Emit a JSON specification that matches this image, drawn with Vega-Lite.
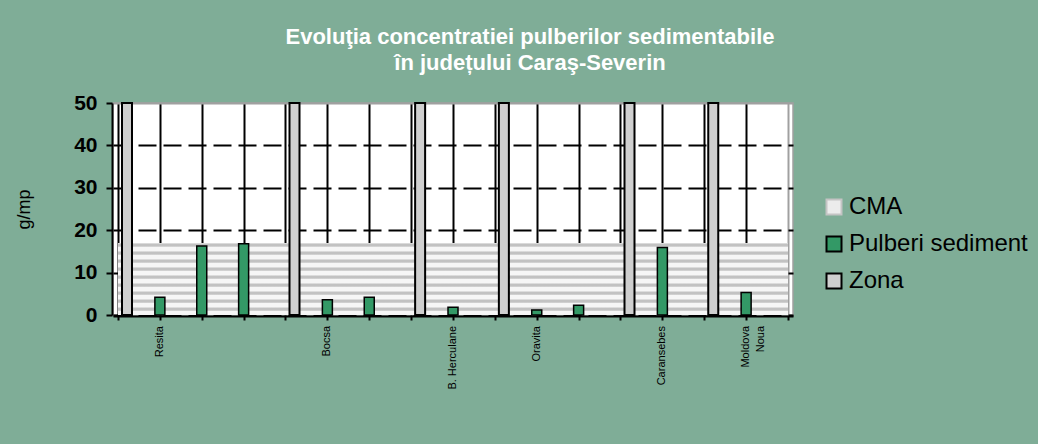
{
  "$schema": "https://vega.github.io/schema/vega-lite/v6.json",
  "width": 680,
  "height": 212,
  "autosize": {"type": "none"},
  "padding": {"left": 113, "top": 103, "right": 245, "bottom": 129},
  "background": "#7fad97",
  "config": {
    "font": "Liberation Sans",
    "view": {"fill": "white", "stroke": "#a0a0a0", "strokeWidth": 1.5}
  },
  "title": {
    "text": ["Evoluţia concentratiei  pulberilor sedimentabile", "în județului Caraş-Severin"],
    "color": "white",
    "font": "Liberation Sans",
    "fontSize": 22,
    "fontWeight": "bold",
    "lineHeight": 26,
    "anchor": "middle",
    "frame": "group",
    "dx": 77,
    "offset": 17
  },
  "data": {
    "values": [
      {"serie": "CMA", "poz": 0, "valoare": 17},
      {"serie": "CMA", "poz": 1, "valoare": 17},
      {"serie": "CMA", "poz": 2, "valoare": 17},
      {"serie": "CMA", "poz": 3, "valoare": 17},
      {"serie": "CMA", "poz": 4, "valoare": 17},
      {"serie": "CMA", "poz": 5, "valoare": 17},
      {"serie": "CMA", "poz": 6, "valoare": 17},
      {"serie": "CMA", "poz": 7, "valoare": 17},
      {"serie": "CMA", "poz": 8, "valoare": 17},
      {"serie": "CMA", "poz": 9, "valoare": 17},
      {"serie": "CMA", "poz": 10, "valoare": 17},
      {"serie": "CMA", "poz": 11, "valoare": 17},
      {"serie": "CMA", "poz": 12, "valoare": 17},
      {"serie": "CMA", "poz": 13, "valoare": 17},
      {"serie": "CMA", "poz": 14, "valoare": 17},
      {"serie": "CMA", "poz": 15, "valoare": 17},
      {"serie": "CMA", "poz": 16, "valoare": 17},
      {"serie": "Zona", "poz": 0, "valoare": 50},
      {"serie": "Zona", "poz": 4, "valoare": 50},
      {"serie": "Zona", "poz": 7, "valoare": 50},
      {"serie": "Zona", "poz": 9, "valoare": 50},
      {"serie": "Zona", "poz": 12, "valoare": 50},
      {"serie": "Zona", "poz": 14, "valoare": 50},
      {"serie": "Pulberi sediment", "eticheta": "Resita", "poz": 1, "valoare": 4.2},
      {"serie": "Pulberi sediment", "poz": 2, "valoare": 16.3},
      {"serie": "Pulberi sediment", "poz": 3, "valoare": 16.8},
      {"serie": "Pulberi sediment", "eticheta": "Bocsa", "poz": 5, "valoare": 3.6},
      {"serie": "Pulberi sediment", "poz": 6, "valoare": 4.2},
      {"serie": "Pulberi sediment", "eticheta": "B. Herculane", "poz": 8, "valoare": 1.8},
      {"serie": "Pulberi sediment", "eticheta": "Oravita", "poz": 10, "valoare": 1.2},
      {"serie": "Pulberi sediment", "poz": 11, "valoare": 2.3},
      {"serie": "Pulberi sediment", "eticheta": "Caransebes", "poz": 13, "valoare": 15.9},
      {"serie": "Pulberi sediment", "eticheta": "Moldova\nNoua", "poz": 15, "valoare": 5.3}
    ]
  },
  "encoding": {
    "x": {
      "field": "poz",
      "type": "quantitative",
      "scale": {"domain": [0, 16], "nice": false, "zero": false},
      "axis": {
        "title": null,
        "labels": false,
        "tickCount": 16,
        "ticks": true,
        "tickSize": 4,
        "tickWidth": 2,
        "tickColor": "black",
        "domainColor": "black",
        "domainWidth": 2,
        "offset": 1,
        "grid": true,
        "gridWidth": 2,
        "gridColor": {"condition": {"test": "datum.value >= 16", "value": "#a0a0a0"}, "value": "black"}
      }
    },
    "y": {
      "field": "valoare",
      "type": "quantitative",
      "stack": null,
      "scale": {"domain": [0, 50], "nice": false},
      "axis": {
        "title": "g/mp",
        "titleFont": "Liberation Sans",
        "titleFontSize": 18,
        "titleFontWeight": "normal",
        "titleColor": "black",
        "titlePadding": 40,
        "values": [0, 10, 20, 30, 40, 50],
        "labelFont": "Liberation Sans",
        "labelFontSize": 21,
        "labelFontWeight": "bold",
        "labelColor": "black",
        "labelPadding": 9,
        "tickSize": 6,
        "tickWidth": 2,
        "tickColor": "black",
        "domainColor": "black",
        "domainWidth": 2,
        "offset": 1,
        "grid": true,
        "gridWidth": 2,
        "gridColor": {"condition": {"test": "datum.value >= 50", "value": "#a0a0a0"}, "value": "black"},
        "gridDash": {"condition": {"test": "datum.value >= 50", "value": []}, "value": [18, 7]}
      }
    }
  },
  "layer": [
    {
      "transform": [{"filter": "datum.serie === 'CMA'"}],
      "mark": {
        "type": "area",
        "line": false,
        "fill": {
          "gradient": "linear",
          "x1": 0, "y1": 0, "x2": 0, "y2": 1,
          "stops": [
            {"offset": 0, "color": "#f6f6f6"},
            {"offset": 0.015, "color": "#c2c2c2"},
            {"offset": 0.045, "color": "#c2c2c2"},
            {"offset": 0.06, "color": "#f6f6f6"},
            {"offset": 0.1111, "color": "#f6f6f6"},
            {"offset": 0.1261, "color": "#c2c2c2"},
            {"offset": 0.1561, "color": "#c2c2c2"},
            {"offset": 0.1711, "color": "#f6f6f6"},
            {"offset": 0.2222, "color": "#f6f6f6"},
            {"offset": 0.2372, "color": "#c2c2c2"},
            {"offset": 0.2672, "color": "#c2c2c2"},
            {"offset": 0.2822, "color": "#f6f6f6"},
            {"offset": 0.3333, "color": "#f6f6f6"},
            {"offset": 0.3483, "color": "#c2c2c2"},
            {"offset": 0.3783, "color": "#c2c2c2"},
            {"offset": 0.3933, "color": "#f6f6f6"},
            {"offset": 0.4444, "color": "#f6f6f6"},
            {"offset": 0.4594, "color": "#c2c2c2"},
            {"offset": 0.4894, "color": "#c2c2c2"},
            {"offset": 0.5044, "color": "#f6f6f6"},
            {"offset": 0.5556, "color": "#f6f6f6"},
            {"offset": 0.5706, "color": "#c2c2c2"},
            {"offset": 0.6006, "color": "#c2c2c2"},
            {"offset": 0.6156, "color": "#f6f6f6"},
            {"offset": 0.6667, "color": "#f6f6f6"},
            {"offset": 0.6817, "color": "#c2c2c2"},
            {"offset": 0.7117, "color": "#c2c2c2"},
            {"offset": 0.7267, "color": "#f6f6f6"},
            {"offset": 0.7778, "color": "#f6f6f6"},
            {"offset": 0.7928, "color": "#c2c2c2"},
            {"offset": 0.8228, "color": "#c2c2c2"},
            {"offset": 0.8378, "color": "#f6f6f6"},
            {"offset": 0.8889, "color": "#f6f6f6"},
            {"offset": 0.9039, "color": "#c2c2c2"},
            {"offset": 0.9339, "color": "#c2c2c2"},
            {"offset": 0.9489, "color": "#f6f6f6"},
            {"offset": 1, "color": "#f6f6f6"}
          ]
        }
      }
    },
    {
      "transform": [{"filter": "datum.serie === 'Zona'"}],
      "mark": {"type": "bar", "width": 10, "xOffset": 9, "strokeWidth": 2, "fill": "#cfcfcf", "stroke": "black"}
    },
    {
      "transform": [{"filter": "datum.serie === 'Pulberi sediment'"}],
      "mark": {"type": "bar", "width": 10, "strokeWidth": 1.5},
      "encoding": {
        "fill": {
          "field": "serie",
          "type": "nominal",
          "scale": {"domain": ["CMA", "Pulberi sediment", "Zona"], "range": ["#ececec", "#339966", "#cfcfcf"]},
          "legend": {
            "title": null,
            "orient": "none",
            "legendX": 709,
            "legendY": 92,
            "symbolType": "square",
            "symbolSize": 225,
            "symbolStrokeWidth": 2,
            "labelFont": "Liberation Sans",
            "labelFontSize": 24,
            "labelColor": "black",
            "labelOffset": 3,
            "labelLimit": 300,
            "rowPadding": 13
          }
        },
        "stroke": {
          "field": "serie",
          "type": "nominal",
          "scale": {"domain": ["CMA", "Pulberi sediment", "Zona"], "range": ["#c4c4c4", "black", "black"]},
          "legend": {
            "title": null,
            "orient": "none",
            "legendX": 709,
            "legendY": 92,
            "symbolType": "square",
            "symbolSize": 225,
            "symbolStrokeWidth": 2,
            "labelFont": "Liberation Sans",
            "labelFontSize": 24,
            "labelColor": "black",
            "labelOffset": 3,
            "labelLimit": 300,
            "rowPadding": 13
          }
        }
      }
    },
    {
      "transform": [{"filter": "isValid(datum.eticheta)"}],
      "mark": {
        "type": "text",
        "angle": 270,
        "align": "right",
        "baseline": "middle",
        "dx": -11,
        "fontSize": 11,
        "font": "Liberation Sans",
        "fill": "black",
        "lineBreak": "\n",
        "lineHeight": 15
      },
      "encoding": {
        "y": {"datum": 0},
        "text": {"field": "eticheta", "type": "nominal"}
      }
    }
  ]
}
